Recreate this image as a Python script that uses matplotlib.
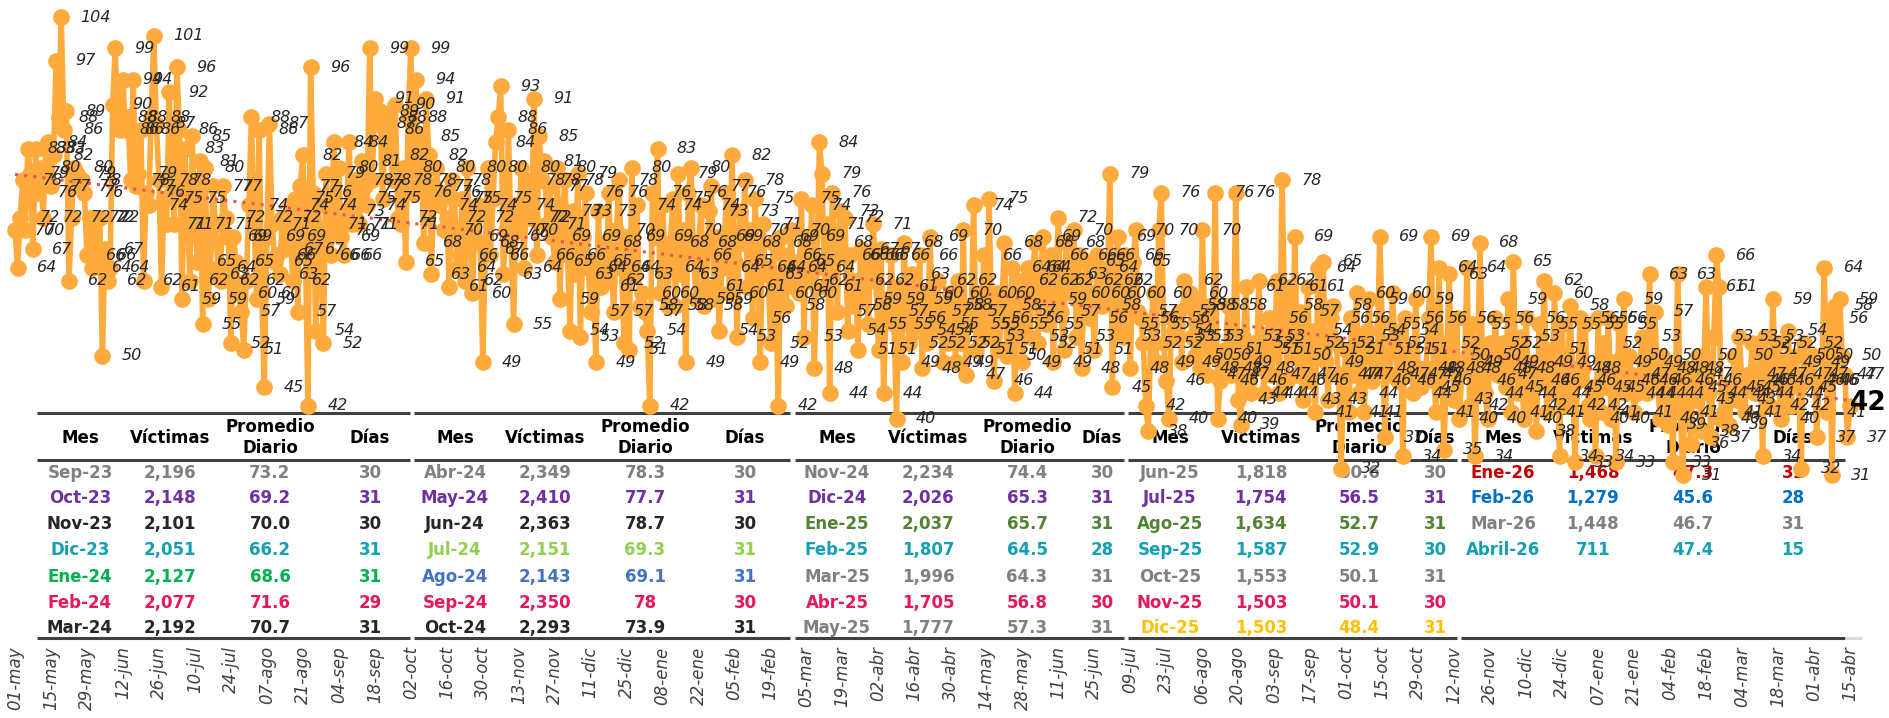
import numpy as np
import pandas as pd
import matplotlib
matplotlib.use("Agg")
from matplotlib import pyplot as plt

# victimas por dia, 01-may-2024 a 15-abr-2026 (una lista por mes)
may24 = [70, 64, 72, 78, 70, 83, 79, 67, 83, 76, 80, 72, 83, 84, 77, 82, 97, 88, 104, 86,
         89, 62, 72, 80, 79, 77, 78, 76, 66, 72, 64]
jun24 = [72, 66, 72, 50, 67, 62, 64, 90, 99, 88, 86, 94, 86, 88, 78, 94, 77, 79, 86, 62,
         76, 74, 88, 101, 87, 78, 61, 75, 71, 92]
jul24 = [78, 71, 96, 86, 59, 83, 75, 62, 85, 71, 65, 81, 55, 80, 59, 63, 77, 71, 64, 62,
         77, 72, 69, 52, 69, 65, 60, 57, 51, 62, 74]
ago24 = [88, 72, 59, 86, 60, 45, 69, 87, 71, 65, 66, 63, 72, 67, 69, 74, 62, 75, 57, 77,
         82, 67, 42, 96, 76, 54, 74, 66, 52, 79, 71]
sep24 = [66, 84, 70, 80, 69, 66, 73, 84, 71, 78, 75, 71, 81, 77, 74, 99, 78, 91, 87, 89,
         75, 86, 88, 82, 78, 90, 72, 71, 80, 65]
oct24 = [88, 99, 76, 94, 78, 85, 68, 91, 82, 63, 77, 80, 74, 76, 70, 72, 61, 78, 75, 64,
         66, 75, 62, 80, 69, 60, 72, 74, 68, 49, 67]
nov24 = [80, 66, 75, 84, 88, 93, 63, 70, 86, 69, 55, 74, 70, 80, 64, 78, 72, 72, 91, 66,
         85, 78, 81, 71, 77, 69, 65, 80, 59, 73]
dic24 = [78, 66, 54, 73, 63, 79, 53, 69, 76, 64, 57, 65, 49, 73, 61, 68, 62, 76, 64, 57,
         70, 78, 64, 52, 69, 51, 80, 63, 74, 58, 60]
ene25 = [57, 54, 42, 76, 69, 83, 60, 74, 64, 58, 68, 75, 58, 79, 63, 70, 49, 76, 80, 66,
         59, 68, 74, 58, 61, 73, 77, 59, 69, 54, 64]
feb25 = [69, 76, 60, 82, 65, 53, 73, 68, 78, 61, 70, 56, 75, 64, 49, 71, 63, 64, 52, 68,
         60, 42, 69, 66, 58, 64, 70, 61]
mar25 = [65, 60, 75, 53, 69, 62, 74, 48, 64, 84, 79, 61, 71, 44, 76, 68, 57, 73, 66, 72,
         54, 66, 58, 62, 51, 67, 59, 66, 55, 66, 71]
abr25 = [62, 51, 67, 44, 59, 57, 66, 55, 40, 61, 49, 68, 56, 52, 63, 59, 54, 66, 48, 60,
         52, 69, 57, 54, 62, 55, 49, 58, 52, 60]
may25 = [58, 49, 62, 52, 70, 47, 57, 55, 74, 51, 60, 55, 66, 53, 75, 56, 46, 60, 51, 58,
         68, 50, 55, 64, 44, 57, 62, 49, 56, 64, 53]
jun25 = [64, 68, 52, 62, 69, 55, 59, 66, 49, 62, 72, 57, 51, 68, 63, 60, 70, 53, 66, 48,
         62, 65, 56, 60, 51, 66, 64, 58, 62, 60]
jul25 = [79, 45, 62, 69, 55, 53, 66, 60, 48, 65, 70, 57, 56, 52, 42, 38, 55, 60, 49, 70,
         76, 52, 46, 40, 56, 54, 53, 57, 49, 62, 58]
ago25 = [60, 53, 50, 58, 48, 70, 53, 47, 58, 50, 76, 40, 46, 48, 51, 58, 47, 49, 76, 43,
         39, 53, 61, 46, 44, 52, 48, 62, 51, 44, 53]
sep25 = [56, 47, 51, 62, 44, 78, 58, 46, 61, 50, 69, 47, 57, 43, 52, 61, 46, 54, 41, 64,
         51, 65, 49, 43, 56, 58, 52, 47, 32, 47]
oct25 = [51, 41, 56, 47, 60, 44, 53, 41, 54, 59, 46, 51, 48, 69, 55, 37, 52, 47, 60, 51,
         46, 54, 34, 56, 47, 51, 44, 59, 48, 45, 47]
nov25 = [48, 56, 69, 46, 41, 64, 52, 35, 48, 63, 50, 43, 56, 40, 48, 49, 64, 42, 55, 34,
         46, 68, 50, 44, 40, 52, 48, 56, 47, 49]
dic25 = [52, 45, 59, 41, 65, 48, 44, 53, 40, 56, 42, 46, 49, 38, 55, 46, 62, 41, 51, 44,
         60, 49, 34, 55, 45, 42, 58, 48, 33, 46, 56]
ene26 = [48, 55, 42, 40, 45, 34, 56, 41, 52, 45, 56, 40, 49, 33, 55, 46, 59, 44, 50, 47,
         41, 44, 46, 53, 49, 44, 63, 46, 57, 48, 40]
feb26 = [50, 44, 39, 48, 33, 46, 63, 41, 31, 48, 45, 36, 47, 43, 50, 38, 46, 61, 44, 37,
         53, 66, 61, 40, 41, 45, 39, 44]
mar26 = [50, 43, 53, 45, 41, 47, 46, 52, 44, 46, 51, 34, 53, 47, 42, 59, 46, 52, 40, 49,
         44, 54, 42, 47, 50, 45, 32, 52, 46, 47, 49]
abr26 = [50, 37, 46, 46, 64, 41, 56, 31, 58, 47, 59, 50, 47, 37, 42]

diarios = (may24 + jun24 + jul24 + ago24 + sep24 + oct24 + nov24 + dic24 + ene25 + feb25
           + mar25 + abr25 + may25 + jun25 + jul25 + ago25 + sep25 + oct25 + nov25 + dic25
           + ene26 + feb26 + mar26 + abr26)
assert len(diarios) == 715, len(diarios)

meses_abr = ["ene", "feb", "mar", "abr", "may", "jun", "jul", "ago", "sep", "oct", "nov", "dic"]
fechas = pd.date_range("2024-05-01", periods=len(diarios), freq="D")
tick_labels = [f"{d.day:02d}-{meses_abr[d.month - 1]}" for d in fechas[::14]]

# tabla resumen mensual
tabla_mes = ["Sep-23", "Oct-23", "Nov-23", "Dic-23", "Ene-24", "Feb-24", "Mar-24",
             "Abr-24", "May-24", "Jun-24", "Jul-24", "Ago-24", "Sep-24", "Oct-24",
             "Nov-24", "Dic-24", "Ene-25", "Feb-25", "Mar-25", "Abr-25", "May-25",
             "Jun-25", "Jul-25", "Ago-25", "Sep-25", "Oct-25", "Nov-25", "Dic-25",
             "Ene-26", "Feb-26", "Mar-26", "Abril-26"]
tabla_victimas = ["2,196", "2,148", "2,101", "2,051", "2,127", "2,077", "2,192",
                  "2,349", "2,410", "2,363", "2,151", "2,143", "2,350", "2,293",
                  "2,234", "2,026", "2,037", "1,807", "1,996", "1,705", "1,777",
                  "1,818", "1,754", "1,634", "1,587", "1,553", "1,503", "1,503",
                  "1,468", "1,279", "1,448", "711"]
tabla_promedio = ["73.2", "69.2", "70.0", "66.2", "68.6", "71.6", "70.7",
                  "78.3", "77.7", "78.7", "69.3", "69.1", "78", "73.9",
                  "74.4", "65.3", "65.7", "64.5", "64.3", "56.8", "57.3",
                  "60.6", "56.5", "52.7", "52.9", "50.1", "50.1", "48.4",
                  "47.3", "45.6", "46.7", "47.4"]
tabla_dias = ["30", "31", "30", "31", "31", "29", "31",
              "30", "31", "30", "31", "31", "30", "31",
              "30", "31", "31", "28", "31", "30", "31",
              "30", "31", "31", "30", "31", "30", "31",
              "31", "28", "31", "15"]

GRIS, MORADO, NEGRO, TEAL = "#808080", "#7030A0", "#262626", "#12A0B2"
ROSA, OLIVA = "#E8175D", "#548235"
tabla_color = [GRIS, MORADO, NEGRO, TEAL, "#00B050", ROSA, NEGRO,
               GRIS, MORADO, NEGRO, "#92D050", "#4472C4", ROSA, NEGRO,
               GRIS, MORADO, OLIVA, TEAL, GRIS, ROSA, GRIS,
               GRIS, MORADO, OLIVA, TEAL, GRIS, ROSA, "#FFC000",
               "#C00000", "#0070C0", GRIS, TEAL]
grupo_filas = [7, 7, 7, 7, 4]
grupo_cols = [(80, 170, 270, 370), (455, 545, 645, 745), (837, 928, 1027, 1102),
              (1170, 1261, 1359, 1435), (1503, 1593, 1693, 1793)]
grupo_lineas = [(37, 410), (414, 790), (795, 1124), (1128, 1457), (1461, 1845)]
filas_y = [473, 498, 524, 550, 577, 603, 628]

W, H = 1889, 718
fig = plt.figure(figsize=(W / 100, H / 100), dpi=100)

# capa de la tabla (coordenadas en pixeles)
tab = fig.add_axes([0, 0, 1, 1])
tab.set_xlim(0, W)
tab.set_ylim(H, 0)
tab.axis("off")

k = 0
for g, n in enumerate(grupo_filas):
    x0, x1 = grupo_lineas[g]
    for yl in (413, 460, 638):
        tab.plot([x0, x1], [yl, yl], color="#404040", lw=2.2, solid_capstyle="butt")
    cm, cv, cp, cd = grupo_cols[g]
    hdr = dict(ha="center", va="center", fontsize=12, fontweight="bold", color="black")
    tab.text(cm, 438, "Mes", **hdr)
    tab.text(cv, 438, "Víctimas", **hdr)
    tab.text(cp, 427, "Promedio", **hdr)
    tab.text(cp, 448, "Diario", **hdr)
    tab.text(cd, 438, "Días", **hdr)
    for i in range(n):
        c = tabla_color[k]
        st = dict(ha="center", va="center", fontsize=12, fontweight="bold", color=c)
        tab.text(cm, filas_y[i], tabla_mes[k], **st)
        tab.text(cv, filas_y[i], tabla_victimas[k], **st)
        tab.text(cp, filas_y[i], tabla_promedio[k], **st)
        tab.text(cd, filas_y[i], tabla_dias[k], **st)
        k += 1
tab.plot([1845, 1862], [638, 638], color="#D9D9D9", lw=2.2, solid_capstyle="butt")

# grafica de la serie diaria
ax = fig.add_axes([0, (H - 638) / H, 1, 638 / H])
ax.set_zorder(2)
ax.patch.set_alpha(0)

x = np.arange(len(diarios))
ppd = (1850 - 15) / 714
ax.set_xlim(-15 / ppd, 714 + (W - 1850) / ppd)
ax.set_ylim(5.02, 106.71)

ax.plot(x, diarios, color="#FFAA3C", lw=4, marker="o", ms=11, zorder=2)
coef = np.polyfit(x, diarios, 1)
ax.plot(x, np.polyval(coef, x), ls=(0, (1, 2)), color="#E4574C", lw=2.2, zorder=3)

for xi, v in zip(x[:-1], diarios[:-1]):
    ax.annotate(str(v), (xi, v), xytext=(14, 0), textcoords="offset points",
                ha="left", va="center", fontsize=11.5, style="italic", color="#262626",
                zorder=4)
ax.annotate(str(diarios[-1]), (x[-1], diarios[-1]), xytext=(0, 2), textcoords="offset points",
            ha="left", va="center", fontsize=19, fontweight="bold", color="black", zorder=5)

ax.set_xticks(x[::14])
ax.set_xticklabels(tick_labels, rotation=90, fontsize=12, style="italic", color="#404040",
                   va="top")
ax.tick_params(axis="x", length=0, pad=6)
ax.set_yticks([])
for s in ax.spines.values():
    s.set_visible(False)

fig.savefig("out.png", dpi=100)
